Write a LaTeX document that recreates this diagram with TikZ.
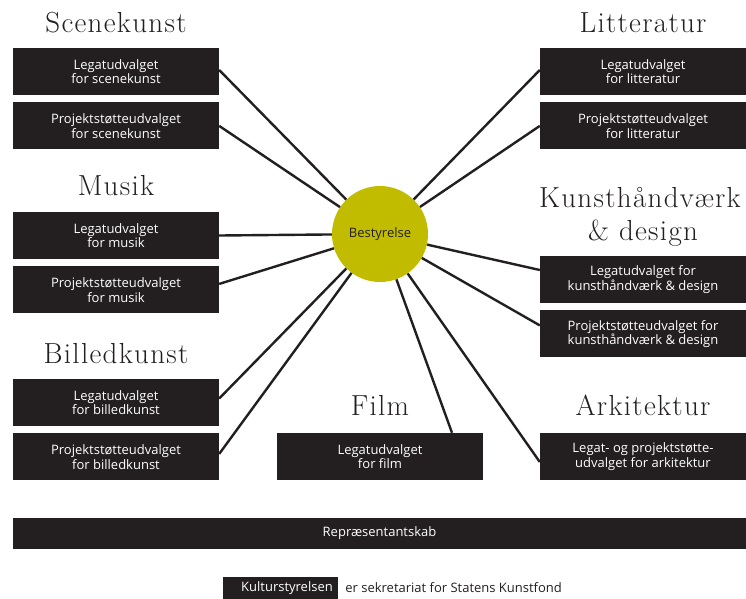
\documentclass[tikz,border=0pt]{standalone}
\usepackage{fontspec}
\newfontfamily\boxfont{Open Sans}
\newfontfamily\headfont{Latin Modern Roman}[LetterSpace=4.5]
\usepackage{xcolor}
\usetikzlibrary{positioning, math}
\definecolor{boxgray}{HTML}{231F20}
\definecolor{bestgul}{HTML}{C2BC00}
\tikzset{
udvalg/.style={fill=boxgray, text=white, minimum width=206pt, minimum height=47pt, inner sep=0pt, align=center, font=\boxfont\fontsize{13}{14.5}\selectfont},
omraade/.style={anchor=base, text=boxgray, font=\headfont\fontsize{29}{32}\selectfont},
streg/.style={draw=boxgray, line width=2.4pt}
}

\begin{document}
\begin{tikzpicture}[x=1pt,y=-1pt]
\tikzmath{
\xl=116;
\xr=643;
\xf=380;
\gap=7;
}
\useasboundingbox (0,0) rectangle (746,598);

%centre
\node[circle, fill=bestgul, minimum size=96pt, inner sep=0pt, text=boxgray, font=\boxfont\fontsize{13}{15}\selectfont] (best) at (380,234) {Bestyrelse};

%left column
\node[omraade] (scene) at (\xl,32) {Scenekunst};
\node[udvalg] (sl) at (\xl,71.5) {Legatudvalget\\for scenekunst};
\node[udvalg, below=\gap pt of sl] (sp) {Projektstøtteudvalget\\for scenekunst};

\node[omraade] (musik) at (\xl,195) {Musik};
\node[udvalg] (ml) at (\xl,235.5) {Legatudvalget\\for musik};
\node[udvalg, below=\gap pt of ml] (mp) {Projektstøtteudvalget\\for musik};

\node[omraade] (billed) at (\xl,363) {Billedkunst};
\node[udvalg] (bl) at (\xl,402.5) {Legatudvalget\\for billedkunst};
\node[udvalg, below=\gap pt of bl] (bp) {Projektstøtteudvalget\\for billedkunst};

%right column
\node[omraade] (litt) at (\xr,32) {Litteratur};
\node[udvalg] (ll) at (\xr,71.5) {Legatudvalget\\for litteratur};
\node[udvalg, below=\gap pt of ll] (lp) {Projektstøtteudvalget\\for litteratur};

\node[omraade] (kunst) at (\xr-3,207) {Kunsthåndværk};
\node[omraade] (design) at (\xr,240) {\& design};
\node[udvalg] (kl) at (\xr,279.5) {Legatudvalget for\\kunsthåndværk \& design};
\node[udvalg, below=\gap pt of kl] (kp) {Projektstøtteudvalget for\\kunsthåndværk \& design};

\node[omraade] (arki) at (\xr,415) {Arkitektur};
\node[udvalg] (al) at (\xr,456.5) {Legat- og projektstøtte-\\udvalget for arkitektur};

%film
\node[omraade] (film) at (\xf,415) {Film};
\node[udvalg] (fl) at (\xf,456.5) {Legatudvalget\\for film};

%bottom
\node[udvalg, minimum width=733pt, minimum height=31pt] (rep) at (379.5,533) {Repræsentantskab};
\node[udvalg, minimum width=115pt, minimum height=22pt] (kult) at (280.5,588) {\quad Kulturstyrelsen};
\node[right=7pt of kult, inner sep=0pt, text=boxgray, font=\boxfont\fontsize{13}{15}\selectfont] (sekr) {er sekretariat for Statens Kunstfond};

%lines to bestyrelse
\draw[streg] ([yshift=1.5pt]sl.east) -- (best);
\draw[streg] (sp.east) -- (best);
\draw[streg] (ml.east) -- (best);
\draw[streg] ([yshift=6pt]mp.east) -- (best);
\draw[streg] ([yshift=4pt]bl.east) -- (best);
\draw[streg] ([yshift=3pt]bp.east) -- (best);
\draw[streg] ([yshift=1.5pt]ll.west) -- (best);
\draw[streg] (lp.west) -- (best);
\draw[streg] ([yshift=9.5pt]kl.west) -- (best);
\draw[streg] ([yshift=8.5pt]kp.west) -- (best);
\draw[streg] ([xshift=72pt]fl.north) -- (best);
\draw[streg] ([yshift=-5.5pt]al.west) -- (best);
\end{tikzpicture}
\end{document}
